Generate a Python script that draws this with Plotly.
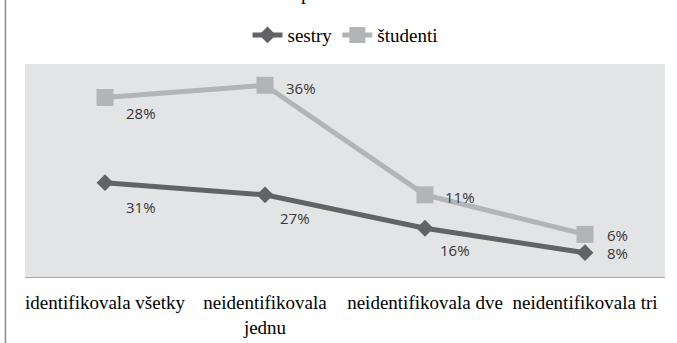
import plotly.graph_objects as go

categories = ["identifikovala všetky", "neidentifikovala<br>jednu", "neidentifikovala dve", "neidentifikovala tri"]
sestry = [31, 27, 16, 8]
studenti = [28, 36, 11, 6]
label_sestry = ["31%", "27%", "16%", "8%"]
label_studenti = ["28%", "36%", "11%", "6%"]

col_sestry = "#626366"
col_studenti = "#B3B4B6"

fig = go.Figure()
fig.add_trace(go.Scatter(
    x=categories, y=sestry, name="sestry", stackgroup="s", fill="none",
    mode="lines+markers",
    line=dict(color=col_sestry, width=5),
    marker=dict(symbol="diamond", size=13, color=col_sestry),
))
fig.add_trace(go.Scatter(
    x=categories, y=studenti, name="študenti", stackgroup="s", fill="none",
    mode="lines+markers",
    line=dict(color=col_studenti, width=5),
    marker=dict(symbol="square", size=17, color=col_studenti),
))

stacked_studenti = [a + b for a, b in zip(sestry, studenti)]
shift_sestry = [(36, -24), (30, -23), (30, -22), (32, 0)]
shift_studenti = [(36, -16), (36, -3), (35, -2), (32, -1)]
lab_font = dict(family="Open Sans", size=15, color="#383838")
for i, c in enumerate(categories):
    fig.add_annotation(x=c, y=sestry[i], xref="x", yref="y", text=label_sestry[i],
                       showarrow=False, xshift=shift_sestry[i][0], yshift=shift_sestry[i][1], font=lab_font)
    fig.add_annotation(x=c, y=stacked_studenti[i], xref="x", yref="y", text=label_studenti[i],
                       showarrow=False, xshift=shift_studenti[i][0], yshift=shift_studenti[i][1], font=lab_font)

# cropped title fragment
fig.add_annotation(x=0.439, y=1.272, xref="paper", yref="paper", text="p", showarrow=False,
                   yanchor="bottom", font=dict(family="Liberation Serif", size=20, color="black"))

# left border line
fig.add_shape(type="line", xref="paper", yref="paper", x0=-0.0305, x1=-0.0305, y0=-0.32, y1=1.31,
              line=dict(color="#8A8A8A", width=1.5))

fig.update_layout(
    width=677, height=343,
    margin=dict(l=25, r=12, t=64, b=66, autoexpand=False),
    paper_bgcolor="white",
    plot_bgcolor="#E3E4E6",
    showlegend=True,
    legend=dict(orientation="h", x=0.5, xanchor="center", y=1.136, yanchor="middle",
                font=dict(family="Liberation Serif", size=19, color="black"),
                bgcolor="rgba(0,0,0,0)", itemwidth=30),
    xaxis=dict(range=[-0.5, 3.5], showgrid=False, showline=True, linecolor="#A6A6A6", linewidth=1,
               ticks="", tickfont=dict(family="Liberation Serif", size=19, color="black"),
               ticklabelstandoff=8, automargin=False),
    yaxis=dict(range=[0, 70], showgrid=False, showticklabels=False, zeroline=False, ticks=""),
)

fig.write_html("out.html")
